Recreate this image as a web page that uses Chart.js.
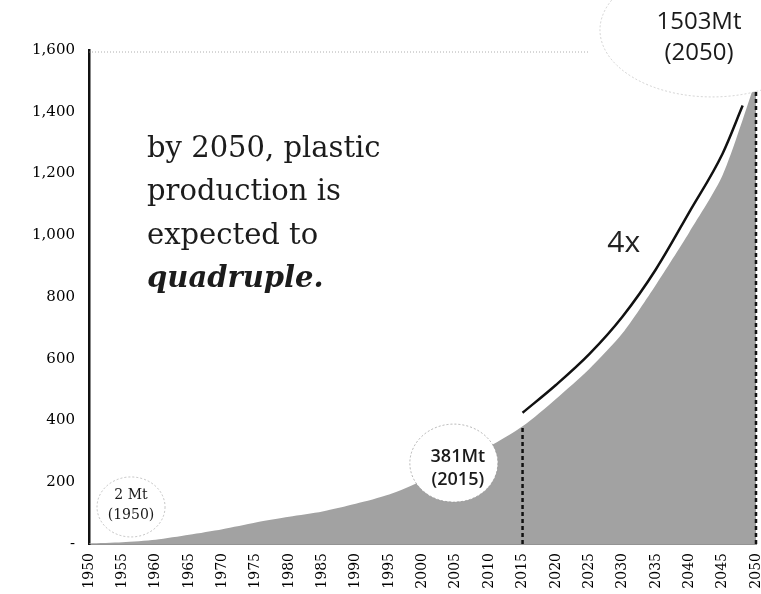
<!DOCTYPE html>
<html>
<head>
<meta charset="utf-8">
<script src="https://cdn.jsdelivr.net/npm/chart.js@4/dist/chart.umd.min.js"></script>
<style>
  html, body { margin: 0; padding: 0; background: #ffffff; }
  #wrap { width: 761px; height: 594px; position: relative; }
</style>
</head>
<body>
<div id="wrap"><canvas id="chart" width="761" height="594"></canvas></div>
<script>
// Global plastic production, million tonnes (Mt), every 5 years
const years = [1950, 1955, 1960, 1965, 1970, 1975, 1980, 1985, 1990, 1995, 2000,
               2005, 2010, 2015, 2020, 2025, 2030, 2035, 2040, 2045, 2050];
const production = [2, 6, 14, 30, 48, 70, 88, 105, 130, 160, 205,
                    258, 315, 381, 470, 567, 683, 840, 1010, 1195, 1503];

// Growth curve drawn just above the projected part
const trendYears = [2015, 2020, 2025, 2030, 2035, 2040, 2045, 2048];
const trendValues = [425, 515, 615, 737, 890, 1075, 1265, 1420];

// Reference years marked with dashed drop lines
const markerYears = [2015, 2050];
const markerValues = [381, 1503];

const yTicks = [0, 200, 400, 600, 800, 1000, 1200, 1400, 1600];

// Callout bubbles: anchor (year, value) and their text
const calloutYears = [1956.3, 2004.7, 2043.4];
const calloutValues = [120, 262, 1665];
const calloutTexts = [['2 Mt', '(1950)'], ['381Mt', '(2015)'], ['1503Mt', '(2050)']];

const headline = ['by 2050, plastic', 'production is', 'expected to', 'quadruple.'];
const growthLabel = '4x';

// Styling for the callouts (kept apart from the values)
const calloutStyle = [
  { rx: 34, ry: 30, font: '14px "DejaVu Serif"', gap: 20, dx: 0, dy: -2, stroke: 'rgba(150,150,150,0.55)' },
  { rx: 44, ry: 39, font: '600 18px "Open Sans"', gap: 23, dx: 4, dy: 5, stroke: 'rgba(150,150,150,0.7)' },
  { rx: 112, ry: 67, font: '24px "Open Sans"', gap: 31, dx: -13, dy: 8, stroke: 'rgba(160,160,160,0.45)' }
];

const areaData = years.map((y, i) => ({ x: y, y: production[i] }));
const trendData = trendYears.map((y, i) => ({ x: y, y: trendValues[i] }));
const markerSets = markerYears.map((y, i) => ({
  data: [{ x: y, y: 0 }, { x: y, y: markerValues[i] }],
  borderColor: '#111',
  borderWidth: 2.5,
  borderDash: [4, 3],
  pointRadius: 0,
  fill: false,
  clip: 6,
  order: 1
}));

const annotations = {
  id: 'annotations',
  afterDatasetsDraw(chart) {
    const { ctx, chartArea, scales } = chart;
    const xs = scales.x, ys = scales.y;
    ctx.save();

    // faint dotted frame line along the top
    ctx.strokeStyle = 'rgba(140,140,140,0.7)';
    ctx.lineWidth = 1;
    ctx.setLineDash([1, 2]);
    ctx.beginPath();
    ctx.moveTo(chartArea.left, chartArea.top + 2);
    ctx.lineTo(xs.getPixelForValue(2025), chartArea.top + 2);
    ctx.stroke();

    // callout bubbles
    calloutTexts.forEach((lines, i) => {
      const st = calloutStyle[i];
      const cx = xs.getPixelForValue(calloutYears[i]);
      const cy = ys.getPixelForValue(calloutValues[i]);
      ctx.setLineDash([2, 2]);
      ctx.beginPath();
      ctx.ellipse(cx, cy, st.rx, st.ry, 0, 0, Math.PI * 2);
      ctx.fillStyle = '#ffffff';
      ctx.fill();
      ctx.strokeStyle = st.stroke;
      ctx.lineWidth = 1;
      ctx.stroke();
      ctx.setLineDash([]);
      ctx.fillStyle = '#1a1a1a';
      ctx.font = st.font;
      ctx.textAlign = 'center';
      ctx.textBaseline = 'middle';
      const top = cy + st.dy - st.gap * (lines.length - 1) / 2;
      lines.forEach((t, j) => ctx.fillText(t, cx + st.dx, top + j * st.gap));
    });

    // headline text
    ctx.setLineDash([]);
    ctx.fillStyle = '#1c1c1c';
    ctx.textAlign = 'left';
    ctx.textBaseline = 'alphabetic';
    const hx = xs.getPixelForValue(1958.7);
    const hy = ys.getPixelForValue(1255);
    headline.forEach((t, i) => {
      ctx.font = (i === headline.length - 1 ? 'italic bold ' : '') + '29px "DejaVu Serif"';
      ctx.fillText(t, hx, hy + i * 43.5);
    });

    // growth label beside the curve
    ctx.font = '30px "Open Sans"';
    ctx.fillStyle = '#222';
    ctx.fillText(growthLabel, xs.getPixelForValue(2027.7), ys.getPixelForValue(945));

    ctx.restore();
  }
};

new Chart(document.getElementById('chart'), {
  type: 'line',
  data: {
    datasets: [
      {
        data: areaData,
        backgroundColor: '#a2a2a2',
        borderWidth: 0,
        pointRadius: 0,
        fill: 'origin',
        tension: 0.25,
        order: 3
      },
      {
        data: trendData,
        borderColor: '#111',
        borderWidth: 2.5,
        pointRadius: 0,
        fill: false,
        cubicInterpolationMode: 'monotone',
        order: 2
      },
      ...markerSets
    ]
  },
  options: {
    responsive: false,
    animation: false,
    events: [],
    layout: { padding: { top: 50, right: 5, left: 0, bottom: 0 } },
    plugins: { legend: { display: false }, tooltip: { enabled: false }, title: { display: false } },
    scales: {
      x: {
        type: 'linear',
        min: 1950,
        max: 2050,
        afterFit(scale) { scale.height = 50; scale.paddingLeft = 0; scale.paddingRight = 0; },
        grid: { display: true, drawOnChartArea: false, drawTicks: false },
        border: { display: true, color: 'rgba(120,120,120,0.8)', width: 1, dash: [1, 2] },
        ticks: {
          stepSize: 5,
          autoSkip: false,
          minRotation: 90,
          maxRotation: 90,
          padding: 9,
          color: '#000',
          font: { family: '"DejaVu Serif"', size: 14 },
          callback: v => String(v)
        }
      },
      y: {
        min: 0,
        max: 1600,
        afterFit(scale) { scale.width = 89; scale.paddingTop = 0; scale.paddingBottom = 0; },
        afterBuildTicks(scale) { scale.ticks = yTicks.map(v => ({ value: v })); },
        grid: { display: true, drawOnChartArea: false, drawTicks: false },
        border: { display: true, color: '#111', width: 2.5 },
        ticks: {
          padding: 14,
          color: '#000',
          font: { family: '"DejaVu Serif"', size: 15 },
          callback: v => (v === 0 ? '-' : v.toLocaleString('en-US'))
        }
      }
    }
  },
  plugins: [annotations]
});
</script>
</body>
</html>
